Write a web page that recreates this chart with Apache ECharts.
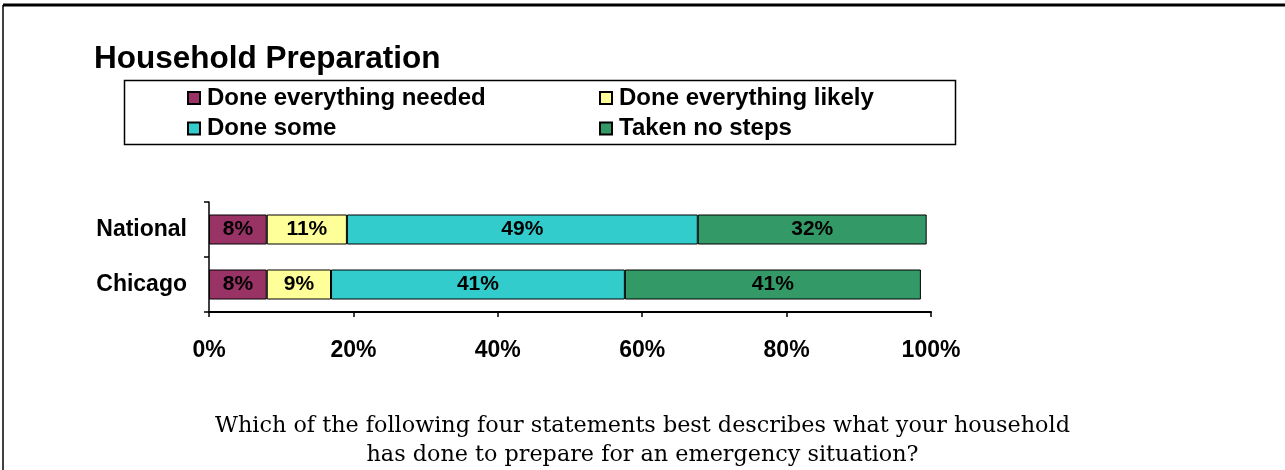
<!DOCTYPE html>
<html>
<head>
<meta charset="utf-8">
<script src="https://cdn.jsdelivr.net/npm/echarts@6/dist/echarts.min.js"></script>
<style>
html, body { margin: 0; padding: 0; background: #fff; }
#chart { width: 1285px; height: 470px; }
</style>
</head>
<body>
<div id="chart"></div>
<script>
// data (labels show rounded values)
var regions = ['National', 'Chicago'];
var seriesNames = ['Done everything needed', 'Done everything likely', 'Done some', 'Taken no steps'];
var seriesColors = ['#993366', '#ffff99', '#33cccc', '#339966'];
var needed = [8.0, 8.0];
var likely = [11.1, 8.9];
var some = [48.6, 40.7];
var noSteps = [31.7, 41.0];
var xTicks = [0, 20, 40, 60, 80, 100];

var allValues = [needed, likely, some, noSteps];
var font = '"Liberation Sans", Arial, sans-serif';

var myChart = echarts.init(document.getElementById('chart'));

var series = seriesNames.map(function (name, i) {
  return {
    name: name,
    type: 'bar',
    stack: 'total',
    barWidth: 30,
    data: allValues[i],
    itemStyle: { color: seriesColors[i], borderColor: '#000', borderWidth: 1 },
    label: {
      show: true,
      position: 'inside',
      color: '#000',
      fontFamily: font,
      fontWeight: 'bold',
      fontSize: 21,
      formatter: function (p) { return Math.round(p.value) + '%'; }
    }
  };
});

function legendCol(names, left) {
  return {
    data: names,
    orient: 'vertical',
    left: left,
    top: 86,
    padding: 0,
    itemGap: 6.5,
    itemWidth: 12,
    itemHeight: 12,
    icon: 'rect',
    textStyle: { fontFamily: font, fontWeight: 'bold', fontSize: 24, color: '#000', padding: [0, 0, 0, 2] }
  };
}

var option = {
  backgroundColor: '#fff',
  animation: false,
  title: {
    text: 'Household Preparation',
    left: 89,
    top: 38,
    textStyle: { fontFamily: font, fontWeight: 'bold', fontSize: 31.5, color: '#000' }
  },
  legend: [
    legendCol([seriesNames[0], seriesNames[2]], 187),
    legendCol([seriesNames[1], seriesNames[3]], 599)
  ],
  grid: { left: 209, right: 354, top: 202, bottom: 158 },
  xAxis: {
    type: 'value',
    min: xTicks[0],
    max: xTicks[xTicks.length - 1],
    interval: 20,
    splitLine: { show: false },
    axisLine: { show: true, lineStyle: { color: '#000', width: 2 } },
    axisTick: { show: true, length: 5, lineStyle: { color: '#000', width: 1.5 } },
    axisLabel: {
      margin: 27,
      color: '#000',
      fontFamily: font,
      fontWeight: 'bold',
      fontSize: 23,
      formatter: '{value}%'
    }
  },
  yAxis: {
    type: 'category',
    inverse: true,
    data: regions,
    axisLine: { show: true, lineStyle: { color: '#000', width: 1.5 } },
    axisTick: { show: true, length: 5, lineStyle: { color: '#000', width: 1.5 } },
    axisLabel: {
      margin: 22,
      color: '#000',
      fontFamily: font,
      fontWeight: 'bold',
      fontSize: 23
    }
  },
  graphic: [
    // outer frame (top and left edges only)
    { type: 'line', shape: { x1: 3, y1: 5, x2: 1285, y2: 5 }, style: { stroke: '#000', lineWidth: 3 } },
    { type: 'line', shape: { x1: 3, y1: 5, x2: 3, y2: 470 }, style: { stroke: '#000', lineWidth: 1.5 } },
    // legend box
    { type: 'rect', z: -1, shape: { x: 124.5, y: 80.5, width: 831, height: 64 }, style: { fill: 'none', stroke: '#000', lineWidth: 1.5 } },
    {
      type: 'text',
      left: 'center',
      top: 412,
      style: {
        text: 'Which of the following four statements best describes what your household\nhas done to prepare for an emergency situation?',
        font: '22.3px "DejaVu Serif", "Liberation Serif", serif',
        fill: '#000',
        textAlign: 'center',
        lineHeight: 29
      }
    }
  ],
  series: series
};

myChart.setOption(option);
</script>
</body>
</html>
